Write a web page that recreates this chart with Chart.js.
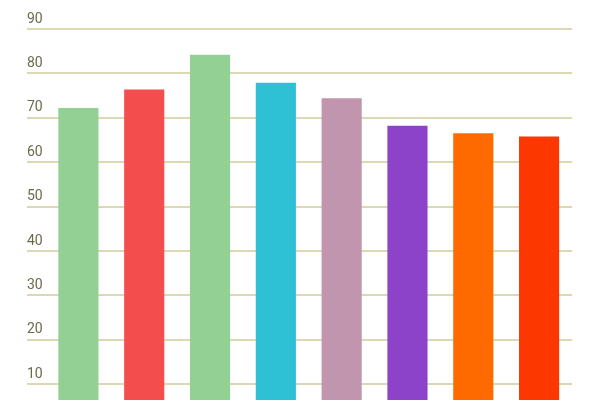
<!DOCTYPE html>
<html>
<head>
<meta charset="utf-8">
<script src="https://cdn.jsdelivr.net/npm/chart.js@4/dist/chart.umd.min.js"></script>
<style>
  html, body { margin: 0; padding: 0; background: #fff; overflow: hidden; }
  #wrap { position: relative; width: 600px; height: 440px; }
</style>
</head>
<body>
<div id="wrap"><canvas id="barChart"></canvas></div>
<script>
// Chart data
const categories = ['1', '2', '3', '4', '5', '6', '7', '8'];
const values = [72.2, 76.4, 84.2, 77.9, 74.4, 68.2, 66.5, 65.8];
const barColors = ['#93d094', '#f44d4d', '#93d094', '#2ec0d4', '#c295ae', '#8d43c9', '#ff6a00', '#fd3700'];
const yTicks = [0, 10, 20, 30, 40, 50, 60, 70, 80, 90];

const ctx = document.getElementById('barChart').getContext('2d');

new Chart(ctx, {
  type: 'bar',
  data: {
    labels: categories,
    datasets: [{
      data: values,
      backgroundColor: barColors,
      borderWidth: 0,
      categoryPercentage: 1,
      barPercentage: 0.61
    }]
  },
  options: {
    responsive: true,
    maintainAspectRatio: false,
    animation: false,
    layout: {
      padding: { top: 29, right: 28, bottom: 8, left: 27 }
    },
    plugins: {
      legend: { display: false },
      tooltip: { enabled: false }
    },
    scales: {
      x: {
        display: false
      },
      y: {
        min: 0,
        max: 90,
        afterBuildTicks: function(scale) {
          scale.ticks = yTicks.map(v => ({ value: v }));
        },
        afterFit: function(scale) {
          scale.width = 18.5;
        },
        border: { display: false },
        grid: {
          color: '#dcd8b4',
          tickColor: '#dcd8b4',
          lineWidth: 2,
          tickLength: 18.5
        },
        ticks: {
          crossAlign: 'far',
          labelOffset: -10,
          color: '#6b6a4c',
          font: {
            family: 'Roboto',
            size: 14
          }
        }
      }
    }
  }
});
</script>
</body>
</html>
